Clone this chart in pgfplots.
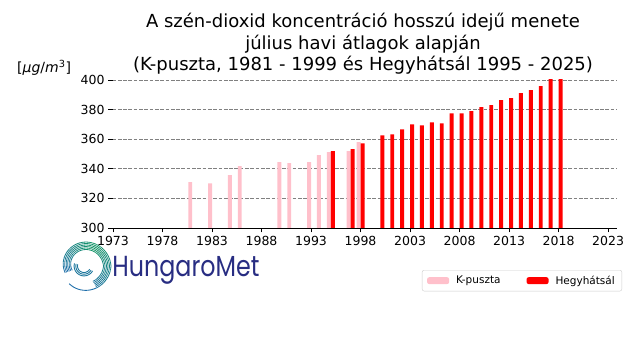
\documentclass[border=0pt]{standalone}
\usepackage{pgfplots}
\pgfplotsset{compat=1.18}
\usepackage{fontspec}
\setmainfont{DejaVu Sans}
\newfontfamily\logofont{Poppins}
\definecolor{kpink}{HTML}{FFC0CB}
\definecolor{hred}{HTML}{FF0000}
\definecolor{logoG}{RGB}{20,150,100}
\definecolor{logoB}{RGB}{30,110,170}
\definecolor{logoN}{RGB}{40,45,130}
\definecolor{legframe}{RGB}{204,204,204}
\begin{document}
\begin{tikzpicture}[declare function={logoR(\t)=ifthenelse(\t>0,27-0.035*\t,27+0.03*\t);}]
\path[use as bounding box] (0,0) rectangle (640bp,360bp);
\begin{axis}[
  at={(112.5bp,132bp)}, anchor=south west,
  scale only axis, width=504.5bp, height=148bp,
  xmin=1972.95, xmax=2023.9, ymin=300, ymax=400,
  axis x line*=bottom, axis y line*=left,
  y axis line style={draw=none},
  x axis line style={line width=0.8bp},
  xtick={1973,1978,...,2023}, ytick={300,320,...,400},
  tick align=outside, major tick length=4.5bp,
  every tick/.style={black, line width=0.8bp},
  ymajorgrids,
  grid style={gray, line width=0.8bp, dash pattern=on 3.7bp off 1.6bp},
  /pgf/number format/assume math mode=true,
  /pgf/number format/1000 sep={},
  tick label style={font=\fontsize{12.5bp}{14bp}\selectfont},
  ybar, bar width=0.4,
  legend style={at={(1.0099,-0.2838)}, anchor=north east,
    draw=legframe, rounded corners=2bp, inner xsep=5bp, inner ysep=3.5bp,
    font=\fontsize{10.5bp}{12bp}\selectfont,
    /tikz/every odd column/.append style={column sep=5bp},
    /tikz/every even column/.append style={column sep=24bp}},
  legend columns=2,
  legend image code/.code={\fill[#1] (0bp,-3.4bp) rectangle (22bp,3.4bp);},
]
\addplot[fill=kpink, draw=none, bar shift=-0.2] coordinates {
(1981,331.0) (1983,330.2) (1985,335.7) (1986,341.8) (1990,344.5)
(1991,343.8) (1993,344.5) (1994,349.2) (1995,351.2) (1997,351.9) (1998,358.0)};
\addlegendentry{K-puszta}
\addplot[fill=hred, draw=none, bar shift=0.2] coordinates {
(1995,351.9) (1997,353.3) (1998,357.2) (2000,362.5) (2001,363.2) (2002,366.6)
(2003,370.0) (2004,369.3) (2005,371.4) (2006,370.7) (2007,377.5) (2008,377.5)
(2009,378.9) (2010,381.6) (2011,383.0) (2012,386.4) (2013,387.7) (2014,391.1)
(2015,393.2) (2016,395.9) (2017,401.0) (2018,402.0)};
\addlegendentry{Hegyhátsál}
\end{axis}
\begin{scope}[x=1bp,y=1bp]
\node[anchor=base, inner sep=0pt, font=\fontsize{18bp}{21bp}\selectfont] at (363,332.3) {A szén-dioxid koncentráció hosszú idejű menete};
\node[anchor=base, inner sep=0pt, font=\fontsize{18bp}{21bp}\selectfont] at (363,311) {július havi átlagok alapján};
\node[anchor=base, inner sep=0pt, font=\fontsize{18bp}{21bp}\selectfont] at (363,290) {(K-puszta, 1981 - 1999 és Hegyhátsál 1995 - 2025)};
\node[anchor=base west, inner sep=0pt, font=\fontsize{14bp}{16bp}\selectfont] at (17,287.3) {[\textit{μg}/\textit{m}\textsuperscript{3}]};
% logo
\foreach \i in {0,...,5}{
  \foreach \a in {200,190,...,-50}{
    \pgfmathsetmacro{\b}{\a-10}
    \pgfmathtruncatemacro{\p}{max(0,100-abs(\a-5-60)/1.4)}
    \draw[line width=0.8bp, color=logoG!\p!logoB] plot[domain=\a:\b, samples=4, variable=\t]
      ({84+(logoR(\t)-\i*1.5)*cos(\t)},{94+(logoR(\t)-\i*1.5)*sin(\t)});
  }
}
\draw[line width=0.9bp, color=logoB] plot[domain=-60:-130, samples=12, variable=\t]
      ({84+(logoR(\t))*cos(\t)},{94+(logoR(\t))*sin(\t)});
\foreach \r in {6.5,8.2,9.9}{
  \draw[line width=0.9bp, color=logoB!80!logoG] plot[domain=165:330, samples=16, variable=\t]
      ({84+\r*cos(\t)},{94+\r*sin(\t)});
}
\node[anchor=base west, inner sep=0pt, text=logoN, xscale=0.82, font=\logofont\fontsize{29bp}{32bp}\selectfont] at (112.3,83.3) {HungaroMet};
\end{scope}
\end{tikzpicture}
\end{document}
